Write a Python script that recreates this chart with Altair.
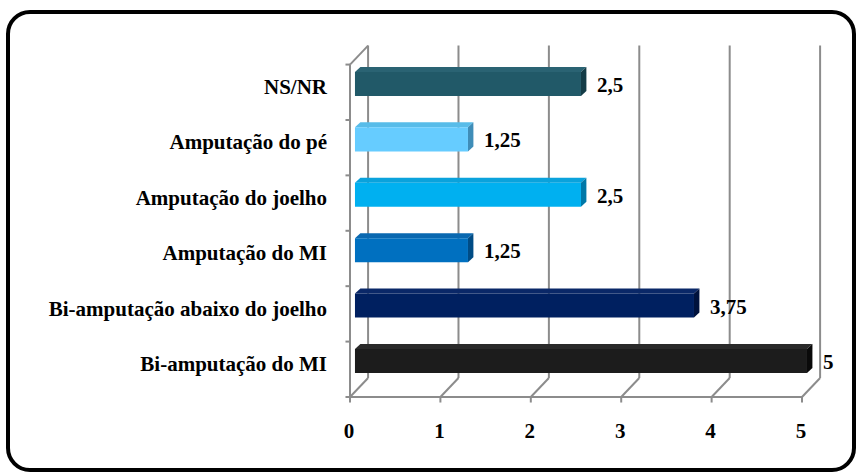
import altair as alt
import pandas as pd

# ---- data (bottom row first) ----
categories = ["Bi-amputação do MI", "Bi-amputação abaixo do joelho", "Amputação do MI",
              "Amputação do joelho", "Amputação do pé", "NS/NR"]
values = [5, 3.75, 1.25, 2.5, 1.25, 2.5]
front_colors = ["#1c1c1c", "#002060", "#0070c0", "#00b0f0", "#66ccff", "#215968"]
top_colors = ["#2a2a2a", "#0a2868", "#0a68b0", "#0aa2dc", "#58bce9", "#2a6373"]
side_colors = ["#0a0a0a", "#00123c", "#004c85", "#0078a8", "#3f8db8", "#143c47"]
x_ticks = [0, 1, 2, 3, 4, 5]

# ---- geometry constants (data units) ----
DX, DY = 0.2, 0.343          # depth of the 3-D box
SHIFT = 0.055                # bar start offset
HALF = 0.217                 # half bar thickness
FDX, FDY = 0.06, 0.09        # bar face depth
CENTER = 0.65
X_DOM = [-3.783, 5.575]
Y_DOM = [-1.318, 6.949]
FONT = "'Times New Roman', 'Liberation Serif', serif"
FS = 21
GRID = "#8c8c8c"

xs = alt.Scale(domain=X_DOM, nice=False, zero=False)
ys = alt.Scale(domain=Y_DOM, nice=False, zero=False)

bars = pd.DataFrame({
    "cat": categories,
    "v": values,
    "front": front_colors,
    "i": list(range(len(categories))),
})
bars["zero"] = 0.0
bars["x0"] = SHIFT
bars["x1"] = bars["v"] + SHIFT
bars["yc"] = bars["i"] + CENTER
bars["y0"] = bars["yc"] - HALF
bars["y1"] = bars["yc"] + HALF
bars["lab"] = [f"{v:g}".replace(".", ",") for v in values]

top_rows, side_rows = [], []
for k in range(len(categories)):
    c = categories[k]
    x0, x1 = float(bars["x0"][k]), float(bars["x1"][k])
    y0, y1 = float(bars["y0"][k]), float(bars["y1"][k])
    top_rows.append({"cat": c, "y": y1, "a": x0, "b": x1, "c": top_colors[k]})
    top_rows.append({"cat": c, "y": y1 + FDY, "a": x0 + FDX, "b": x1 + FDX, "c": top_colors[k]})
    side_rows.append({"cat": c, "x": x1, "lo": y0, "hi": y1, "c": side_colors[k]})
    side_rows.append({"cat": c, "x": x1 + FDX, "lo": y0 + FDY, "hi": y1 + FDY, "c": side_colors[k]})
top_df = pd.DataFrame(top_rows)
side_df = pd.DataFrame(side_rows)

# structure lines
lines = []
for t in x_ticks:
    lines.append({"x": t + DX, "x2": t + DX, "y": DY, "y2": 6 + DY})      # back gridline
    lines.append({"x": t, "x2": t + DX, "y": 0, "y2": DY})                # floor diagonal
    lines.append({"x": t, "x2": t, "y": 0, "y2": -0.1})                   # bottom tick
lines.append({"x": 0, "x2": 5, "y": 0, "y2": 0})                           # floor front
lines.append({"x": 0, "x2": 0, "y": 0, "y2": 6})                           # left axis
lines.append({"x": 0, "x2": DX, "y": 6, "y2": 6 + DY})                     # top diagonal
for k in range(7):
    lines.append({"x": -0.05, "x2": 0, "y": k, "y2": k})                   # left ticks
lines_df = pd.DataFrame(lines)

ticks_df = pd.DataFrame({"t": x_ticks, "y": [-0.63] * len(x_ticks), "lab": [str(t) for t in x_ticks]})

structure = alt.Chart(lines_df).mark_rule(color=GRID, strokeWidth=2).encode(
    x=alt.X("x:Q", scale=xs, axis=None), x2="x2:Q",
    y=alt.Y("y:Q", scale=ys, axis=None), y2="y2:Q",
)

front = alt.Chart(bars).mark_rect().encode(
    x=alt.X("x0:Q", scale=xs, axis=None), x2="x1:Q",
    y=alt.Y("y0:Q", scale=ys, axis=None), y2="y1:Q",
    color=alt.Color("front:N", scale=None),
)

topface = alt.Chart(top_df).mark_area(orient="horizontal").encode(
    y=alt.Y("y:Q", scale=ys, axis=None),
    x=alt.X("a:Q", scale=xs, axis=None), x2="b:Q",
    detail="cat:N",
    color=alt.Color("c:N", scale=None),
)

sideface = alt.Chart(side_df).mark_area(orient="vertical").encode(
    x=alt.X("x:Q", scale=xs, axis=None),
    y=alt.Y("lo:Q", scale=ys, axis=None), y2="hi:Q",
    detail="cat:N",
    color=alt.Color("c:N", scale=None),
)

value_labels = alt.Chart(bars).mark_text(
    align="left", baseline="middle", dx=16, dy=2, font=FONT, fontWeight="bold", fontSize=FS, color="black"
).encode(x=alt.X("x1:Q", scale=xs, axis=None), y=alt.Y("yc:Q", scale=ys, axis=None), text="lab:N")

cat_labels = alt.Chart(bars).mark_text(
    align="right", baseline="middle", dx=-23, dy=4, font=FONT, fontWeight="bold", fontSize=FS, color="black"
).encode(x=alt.X("zero:Q", scale=xs, axis=None), y=alt.Y("yc:Q", scale=ys, axis=None), text="cat:N")

tick_labels = alt.Chart(ticks_df).mark_text(
    align="center", baseline="middle", dx=-1, font=FONT, fontWeight="bold", fontSize=FS, color="black"
).encode(x=alt.X("t:Q", scale=xs, axis=None), y=alt.Y("y:Q", scale=ys, axis=None), text="lab:N")

chart = alt.layer(structure, topface, sideface, front, value_labels, cat_labels, tick_labels).properties(
    width=846, height=458,
    padding={"left": 8, "top": 12, "right": 2, "bottom": 3},
    autosize=alt.AutoSizeParams(type="none"),
    background="white",
).configure_view(
    stroke="black", strokeWidth=4, cornerRadius=22, fill="white"
)

chart.save("out.html", embed_options={"renderer": "svg", "actions": False})
